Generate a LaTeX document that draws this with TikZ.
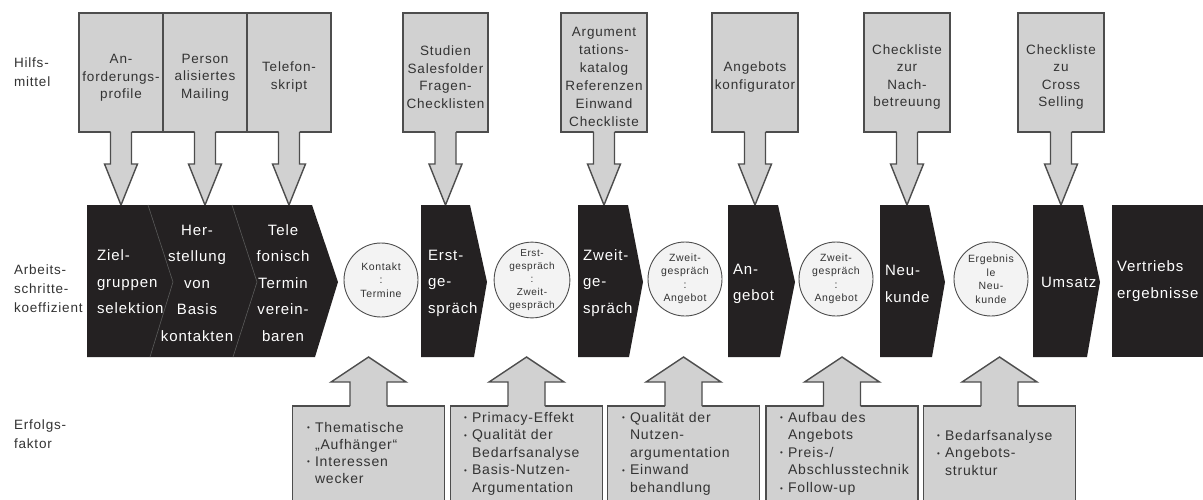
\documentclass[tikz,border=0pt]{standalone}
\usepackage{fontspec}
\setmainfont{Liberation Sans}[LetterSpace=6]
\usetikzlibrary{calc}
\definecolor{boxgray}{HTML}{D1D1D1}
\definecolor{edgegray}{HTML}{4D4D4D}
\definecolor{blk}{HTML}{242122}
\definecolor{circfill}{HTML}{F3F3F3}
\definecolor{divgray}{HTML}{5A5A5A}
\definecolor{txtgray}{HTML}{333333}
\newcommand{\fs}[2]{\fontsize{#1}{#2}\selectfont}
\newcommand{\bl}{\makebox[8pt][l]{\raisebox{1.5pt}{\fs{8}{8}•}}}
\newcommand{\ind}{\hspace*{8pt}}
\tikzset{
 every node/.style={inner sep=0pt, outer sep=0pt},
 sidelabel/.style={anchor=west, align=left, font=\fs{13.5}{19}, text=txtgray},
 hbox/.style={draw=edgegray, line width=1.4pt, fill=boxgray, minimum height=119pt, anchor=north},
 htext/.style={align=center, font=\fs{13.5}{17.5}, text=txtgray},
 ebox/.style={draw=edgegray, line width=1.4pt, fill=boxgray, minimum width=152pt, minimum height=120pt, anchor=north},
 etext/.style={anchor=north west, align=left, font=\fs{14}{17.6}, text=txtgray},
 chev/.style={fill=blk},
 divline/.style={draw=divgray, line width=0.6pt},
 wtext/.style={align=left, font=\fs{15}{26.5}, text=white},
 circ/.style={circle, draw=edgegray, line width=0.9pt, fill=circfill, minimum size=74pt, align=center, font=\fs{10.5}{13.5}, text=txtgray},
 arredge/.style={draw=edgegray, line width=1.4pt, line join=miter},
}
\begin{document}
\begin{tikzpicture}[x=1pt,y=-1pt]
\useasboundingbox (0,0) rectangle (1203,499);
\clip (0,0) rectangle (1203,499);
\fill[white] (0,0) rectangle (1203,499);
\coordinate (rowtop) at (0,205);
\coordinate (rowbot) at (0,357);

% side labels
\node[sidelabel] (lh) at (14,72) {Hilfs-\\mittel};
\node[sidelabel] (la) at (14,289) {Arbeits-\\schritte-\\koeffizient};
\node[sidelabel] (le) at (14,434) {Erfolgs-\\faktor};

% top boxes
\node[hbox, minimum width=84pt] (h1) at (121,13) {};
\node[hbox, minimum width=84pt] (h2) at (205,13) {};
\node[hbox, minimum width=84pt] (h3) at (289,13) {};
\node[hbox, minimum width=85pt] (h4) at (445.5,13) {};
\node[hbox, minimum width=86pt] (h5) at (604,13) {};
\node[hbox, minimum width=86pt] (h6) at (755,13) {};
\node[hbox, minimum width=86pt] (h7) at (907,13) {};
\node[hbox, minimum width=86pt] (h8) at (1061,13) {};

\foreach \b in {h1,h2,h3,h4,h5,h6,h7,h8}{
  \fill[boxgray] ($(\b.south)+(-10.5,-1.5)$) -- ($(\b.south)+(-10.5,32)$) -- ($(\b.south)+(-16.5,32)$) -- (\b.south |- rowtop) -- ($(\b.south)+(16.5,32)$) -- ($(\b.south)+(10.5,32)$) -- ($(\b.south)+(10.5,-1.5)$) -- cycle;
  \draw[arredge] ($(\b.south)+(-10.5,0)$) -- ($(\b.south)+(-10.5,32)$) -- ($(\b.south)+(-16.5,32)$) -- (\b.south |- rowtop) -- ($(\b.south)+(16.5,32)$) -- ($(\b.south)+(10.5,32)$) -- ($(\b.south)+(10.5,0)$);
}

\node[htext] (h1t) at (121,78) {An-\\forderungs-\\profile};
\node[htext] (h2t) at (205,77.5) {Person\\alisiertes\\Mailing};
\node[htext] (h3t) at (289,77) {Telefon-\\skript};
\node[htext] (h4t) at (445.5,77) {Studien\\Salesfolder\\Fragen-\\Checklisten};
\node[htext, font=\fs{13.5}{18}] (h5t) at (604,77) {Argument\\tations-\\katalog\\Referenzen\\Einwand\\Checkliste};
\node[htext] (h6t) at (755,77) {Angebots\\konfigurator};
\node[htext] (h7t) at (907,77) {Checkliste\\zur\\Nach-\\betreuung};
\node[htext] (h8t) at (1061,77) {Checkliste\\zu\\Cross\\Selling};

% bottom boxes
\node[ebox] (e1) at (368.5,406) {};
\node[ebox] (e2) at (526.5,406) {};
\node[ebox] (e3) at (683.5,406) {};
\node[ebox] (e4) at (842,406) {};
\node[ebox] (e5) at (999.5,406) {};
\foreach \b in {e1,e2,e3,e4,e5}{
  \fill[boxgray] ($(\b.north)+(-18.5,1.5)$) -- ($(\b.north)+(-18.5,-24)$) -- ($(\b.north)+(-37.5,-24)$) -- (\b.north |- rowbot) -- ($(\b.north)+(37.5,-24)$) -- ($(\b.north)+(18.5,-24)$) -- ($(\b.north)+(18.5,1.5)$) -- cycle;
  \draw[arredge] ($(\b.north)+(-18.5,0)$) -- ($(\b.north)+(-18.5,-24)$) -- ($(\b.north)+(-37.5,-24)$) -- (\b.north |- rowbot) -- ($(\b.north)+(37.5,-24)$) -- ($(\b.north)+(18.5,-24)$) -- ($(\b.north)+(18.5,0)$);
}
\node[etext, font=\fs{14}{17}] (e1t) at (307,422) {\bl Thematische\\\ind „Aufhänger“\\\bl Interessen\\\ind wecker};
\node[etext] (e2t) at (464,412) {\bl Primacy-Effekt\\\bl Qualität der\\\ind Bedarfsanalyse\\\bl Basis-Nutzen-\\\ind Argumentation};
\node[etext] (e3t) at (622,412) {\bl Qualität der\\\ind Nutzen-\\\ind argumentation\\\bl Einwand\\\ind behandlung};
\node[etext] (e4t) at (780,412) {\bl Aufbau des\\\ind Angebots\\\bl Preis-/\\\ind Abschlusstechnik\\\bl Follow-up};
\node[etext] (e5t) at (937,430) {\bl Bedarfsanalyse\\\bl Angebots-\\\ind struktur};

% middle row shapes
\fill[chev] (87,205) -- (312,205) -- (338,282) -- (315,357) -- (87,357) -- cycle;
\draw[divline] (148,205) -- (173,282) -- (150,357);
\draw[divline] (232,205) -- (257,282) -- (233,357);
\fill[chev] (421,205) -- (470,205) -- (487,282) -- (474,357) -- (421,357) -- cycle;
\fill[chev] (578,205) -- (628,205) -- (643,282) -- (629,357) -- (578,357) -- cycle;
\fill[chev] (728,205) -- (778,205) -- (795,282) -- (780,357) -- (728,357) -- cycle;
\fill[chev] (880,205) -- (929,205) -- (945,282) -- (932,357) -- (880,357) -- cycle;
\fill[chev] (1033,205) -- (1083,205) -- (1100,282) -- (1087,357) -- (1033,357) -- cycle;
\fill[chev] (1112,205) rectangle (1203,357);

\node[wtext, anchor=west] (m1a) at (97,282) {Ziel-\\gruppen\\selektion};
\node[wtext, align=center] (m1b) at (197,283) {Her-\\stellung\\von\\Basis\\kontakten};
\node[wtext, align=center] (m1c) at (283,283) {Tele\\fonisch\\Termin\\verein-\\baren};
\node[wtext, anchor=west] (m2) at (428,283) {Erst-\\ge-\\spräch};
\node[wtext, anchor=west] (m3) at (583,283) {Zweit-\\ge-\\spräch};
\node[wtext, anchor=west] (m4) at (733,284) {An-\\gebot};
\node[wtext, anchor=west] (m5) at (885,284) {Neu-\\kunde};
\node[wtext, anchor=west] (m6) at (1041,282) {Umsatz};
\node[wtext, anchor=west] (m7) at (1117,281) {Vertriebs\\ergebnisse};

% circles
\node[circ] (k1) at (381,280) {Kontakt\\:\\Termine};
\node[circ, font=\fs{10}{13}] (k2) at (532,280) {Erst-\\gespräch\\:\\Zweit-\\gespräch};
\node[circ] (k3) at (685,279) {Zweit-\\gespräch\\:\\Angebot};
\node[circ] (k4) at (836,279) {Zweit-\\gespräch\\:\\Angebot};
\node[circ] (k5) at (991,279) {Ergebnis\\le\\Neu-\\kunde};
\end{tikzpicture}
\end{document}
